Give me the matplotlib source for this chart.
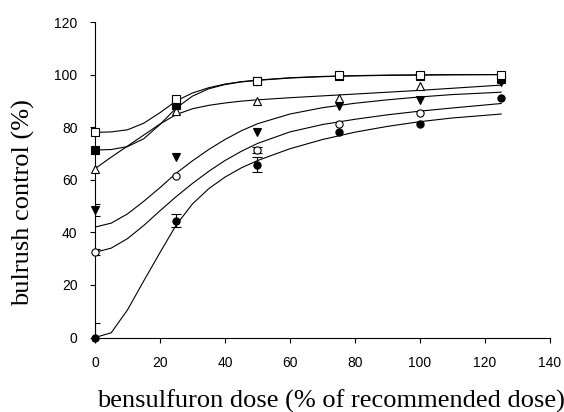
import numpy as np
import matplotlib.pyplot as plt

# measured doses (% of recommended dose)
dose = [0, 25, 50, 75, 100, 125]

# observed bulrush control (%) per treatment
open_square = [78.0, 90.8, 97.7, 99.8, 99.8, 99.9]
filled_square = [71.3, 88.3, 97.4, 99.5, 99.6, 98.6]
open_triangle = [64.2, 86.0, 89.8, 91.0, 95.5, 98.2]
filled_down_tri = [48.5, 68.8, 78.3, 87.9, 90.3, 97.3]
open_circle = [32.5, 61.3, 71.3, 81.2, 85.2, 97.9]
filled_circle = [0.0, 44.5, 65.8, 78.2, 81.2, 91.0]

# standard errors (0 = none drawn)
err_filled_circle = [5.5, 2.3, 2.8, 0, 0, 0]
err_filled_down_tri = [2.3, 0, 0, 0, 0, 0]
err_open_circle = [1.0, 0, 1.0, 0, 0, 0]

# fitted response curves
curve_dose = [0, 5, 10, 15, 20, 25, 30, 35, 40, 45, 50, 60, 70, 80, 90, 100, 110, 125]
fit_open_square = [78.0, 78.2, 79.0, 81.5, 85.5, 90.0, 93.0, 95.0, 96.4, 97.3, 97.9, 98.8, 99.3, 99.6, 99.8, 99.9, 100.0, 100.0]
fit_filled_square = [71.3, 71.5, 72.6, 75.6, 81.0, 87.3, 91.8, 94.6, 96.2, 97.2, 97.8, 98.7, 99.2, 99.5, 99.7, 99.8, 99.9, 100.0]
fit_open_triangle = [64.2, 68.6, 72.8, 77.0, 81.2, 84.8, 87.0, 88.3, 89.2, 89.9, 90.4, 91.2, 91.9, 92.6, 93.3, 94.0, 94.8, 96.0]
fit_down_tri = [42.0, 43.5, 47.0, 51.8, 57.0, 62.5, 67.2, 71.5, 75.3, 78.6, 81.3, 85.0, 87.4, 89.1, 90.4, 91.5, 92.4, 93.3]
fit_open_circle = [32.4, 34.0, 37.6, 42.6, 48.2, 53.6, 58.6, 63.2, 67.3, 70.8, 73.8, 78.2, 81.0, 83.0, 84.7, 86.1, 87.3, 89.0]
fit_filled_circle = [0.0, 1.8, 10.5, 21.5, 32.3, 42.8, 50.8, 56.6, 61.0, 64.5, 67.3, 71.8, 75.3, 78.1, 80.3, 82.1, 83.5, 85.0]

x_ticks = [0, 20, 40, 60, 80, 100, 120, 140]
y_ticks = [0, 20, 40, 60, 80, 100, 120]


def draw_series(ax, y, marker, filled, err=None, z=4):
    face = "black" if filled else "white"
    if err is not None:
        e = np.array(err, dtype=float)
        m = e > 0
        ax.errorbar(np.array(dose)[m], np.array(y)[m], yerr=e[m], fmt="none",
                    ecolor="black", elinewidth=0.8, capsize=3.5, capthick=0.8,
                    zorder=3)
    ax.plot(dose, y, linestyle="none", marker=marker, markersize=5.2,
            markerfacecolor=face, markeredgecolor="black", markeredgewidth=0.8,
            zorder=z, clip_on=False)


def main():
    fig = plt.figure(figsize=(5.64, 4.12), dpi=100)
    ax = fig.add_axes([0.1684, 0.1808, 0.975 - 0.1684, 0.9466 - 0.1808])

    for fit in [fit_open_square, fit_filled_square, fit_open_triangle,
                fit_down_tri, fit_open_circle, fit_filled_circle]:
        ax.plot(curve_dose, fit, color="black", linewidth=0.8, zorder=2)

    # draw order: lower series first so the open squares stay on top
    draw_series(ax, filled_circle, "o", True, err_filled_circle, z=4)
    draw_series(ax, filled_down_tri, "v", True, err_filled_down_tri, z=5)
    draw_series(ax, open_circle, "o", False, err_open_circle, z=6)
    draw_series(ax, open_triangle, "^", False, z=7)
    draw_series(ax, filled_square, "s", True, z=8)
    draw_series(ax, open_square, "s", False, z=9)

    ax.set_xlim(0, 140)
    ax.set_ylim(0, 120)
    ax.set_xticks(x_ticks)
    ax.set_yticks(y_ticks)
    for s in ["top", "right"]:
        ax.spines[s].set_visible(False)
    for s in ["left", "bottom"]:
        ax.spines[s].set_linewidth(0.8)
    ax.tick_params(axis="x", direction="out", length=3.5, width=0.8, pad=10,
                   labelsize=10)
    ax.tick_params(axis="y", direction="out", length=3.5, width=0.8, pad=9,
                   labelsize=10)
    for lab in ax.get_xticklabels() + ax.get_yticklabels():
        lab.set_family("Liberation Sans")

    fig.text(97 / 564, 1 - 408 / 412, "bensulfuron dose (% of recommended dose)",
             family="Liberation Serif", fontsize=19, ha="left", va="baseline")
    fig.text(23 / 564, 1 - 203 / 412, "bulrush control (%)",
             family="Liberation Serif", fontsize=19, ha="center", va="center",
             rotation=90)

    fig.savefig("out.png", dpi=100)


if __name__ == "__main__":
    main()
